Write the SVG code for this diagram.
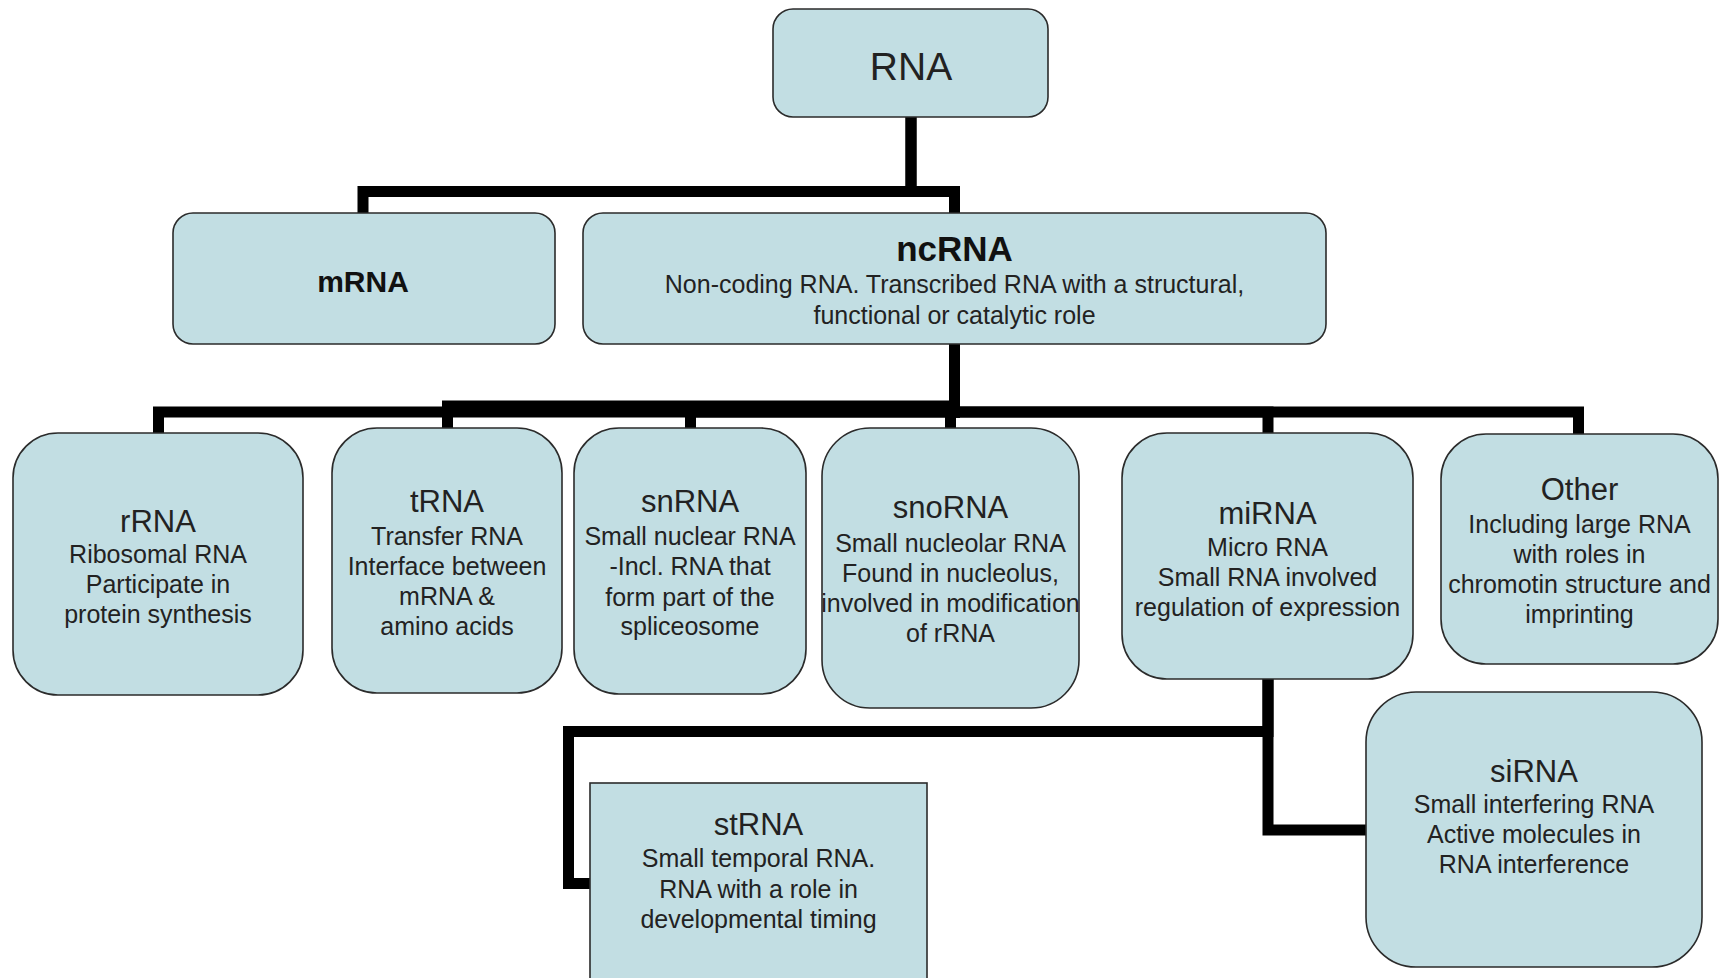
<svg xmlns="http://www.w3.org/2000/svg" width="1725" height="978" viewBox="0 0 1725 978">
<style>
.box{fill:#C2DEE3;stroke:#2b2b2b;stroke-width:1.6}
.t{font-family:"Liberation Sans",Arial,sans-serif;fill:#222;text-anchor:middle}
.ti{font-size:31px}
.s{font-size:25px}
.b{font-weight:bold;fill:#111}
.c{fill:none;stroke:#000;stroke-width:11;stroke-linejoin:miter;stroke-linecap:butt}
</style>
<rect width="1725" height="978" fill="#fff"/>
<g id="connectors">
<path class="c" d="M911,117 V191.5 H363 V213"/>
<path class="c" d="M911,117 V191.5 H954.5 V213"/>
<path class="c" d="M954.5,344 V412 H158.5 V433"/>
<path class="c" d="M954.5,344 V406 H447.5 V428"/>
<path class="c" d="M954.5,344 V412 H690.5 V428"/>
<path class="c" d="M954.5,344 V412 H950.5 V428"/>
<path class="c" d="M954.5,344 V412 H1268 V433"/>
<path class="c" d="M954.5,344 V412 H1578.5 V434"/>
<path class="c" d="M1268,679 V731.5 H568.5 V883.5 H590"/>
<path class="c" d="M1268,679 V830 H1366"/>
</g>
<g id="RNA">
<rect class="box" x="773" y="9" width="275" height="108" rx="20"/>
<text class="t" x="911" y="80" font-size="39">RNA</text>
</g>
<g id="mRNA">
<rect class="box" x="173" y="213" width="382" height="131" rx="20"/>
<text class="t b" x="363" y="292" font-size="30">mRNA</text>
</g>
<g id="ncRNA">
<rect class="box" x="583" y="213" width="743" height="131" rx="20"/>
<text class="t b" x="954.5" y="261" font-size="35">ncRNA</text>
<text class="t s" x="954.5" y="293">Non-coding RNA. Transcribed RNA with a structural,</text>
<text class="t s" x="954.5" y="324">functional or catalytic role</text>
</g>
<g id="rRNA">
<rect class="box" x="13" y="433" width="290" height="262" rx="45"/>
<text class="t ti" x="158" y="532">rRNA</text>
<text class="t s" x="158" y="563">Ribosomal RNA</text>
<text class="t s" x="158" y="593">Participate in</text>
<text class="t s" x="158" y="623">protein synthesis</text>
</g>
<g id="tRNA">
<rect class="box" x="332" y="428" width="230" height="265" rx="45"/>
<text class="t ti" x="447" y="512">tRNA</text>
<text class="t s" x="447" y="545">Transfer RNA</text>
<text class="t s" x="447" y="575">Interface between</text>
<text class="t s" x="447" y="605">mRNA &amp;</text>
<text class="t s" x="447" y="635">amino acids</text>
</g>
<g id="snRNA">
<rect class="box" x="574" y="428" width="232" height="266" rx="45"/>
<text class="t ti" x="690" y="512">snRNA</text>
<text class="t s" x="690" y="545">Small nuclear RNA</text>
<text class="t s" x="690" y="575">-Incl. RNA that</text>
<text class="t s" x="690" y="606">form part of the</text>
<text class="t s" x="690" y="635">spliceosome</text>
</g>
<g id="snoRNA">
<rect class="box" x="822" y="428" width="257" height="280" rx="48"/>
<text class="t ti" x="950.5" y="518">snoRNA</text>
<text class="t s" x="950.5" y="552">Small nucleolar RNA</text>
<text class="t s" x="950.5" y="582">Found in nucleolus,</text>
<text class="t s" x="950.5" y="612">involved in modification</text>
<text class="t s" x="950.5" y="642">of rRNA</text>
</g>
<g id="miRNA">
<rect class="box" x="1122" y="433" width="291" height="246" rx="45"/>
<text class="t ti" x="1267.5" y="524">miRNA</text>
<text class="t s" x="1267.5" y="556">Micro RNA</text>
<text class="t s" x="1267.5" y="586">Small RNA involved</text>
<text class="t s" x="1267.5" y="616">regulation of expression</text>
</g>
<g id="Other">
<rect class="box" x="1441" y="434" width="277" height="230" rx="45"/>
<text class="t ti" x="1579.5" y="500">Other</text>
<text class="t s" x="1579.5" y="533">Including large RNA</text>
<text class="t s" x="1579.5" y="563">with roles in</text>
<text class="t s" x="1579.5" y="593">chromotin structure and</text>
<text class="t s" x="1579.5" y="623">imprinting</text>
</g>
<g id="stRNA">
<rect class="box" x="590" y="783" width="337" height="210"/>
<text class="t ti" x="758.5" y="835">stRNA</text>
<text class="t s" x="758.5" y="867">Small temporal RNA.</text>
<text class="t s" x="758.5" y="898">RNA with a role in</text>
<text class="t s" x="758.5" y="928">developmental timing</text>
</g>
<g id="siRNA">
<rect class="box" x="1366" y="692" width="336" height="275" rx="50"/>
<text class="t ti" x="1534" y="782">siRNA</text>
<text class="t s" x="1534" y="813">Small interfering RNA</text>
<text class="t s" x="1534" y="843">Active molecules in</text>
<text class="t s" x="1534" y="873">RNA interference</text>
</g>
</svg>
